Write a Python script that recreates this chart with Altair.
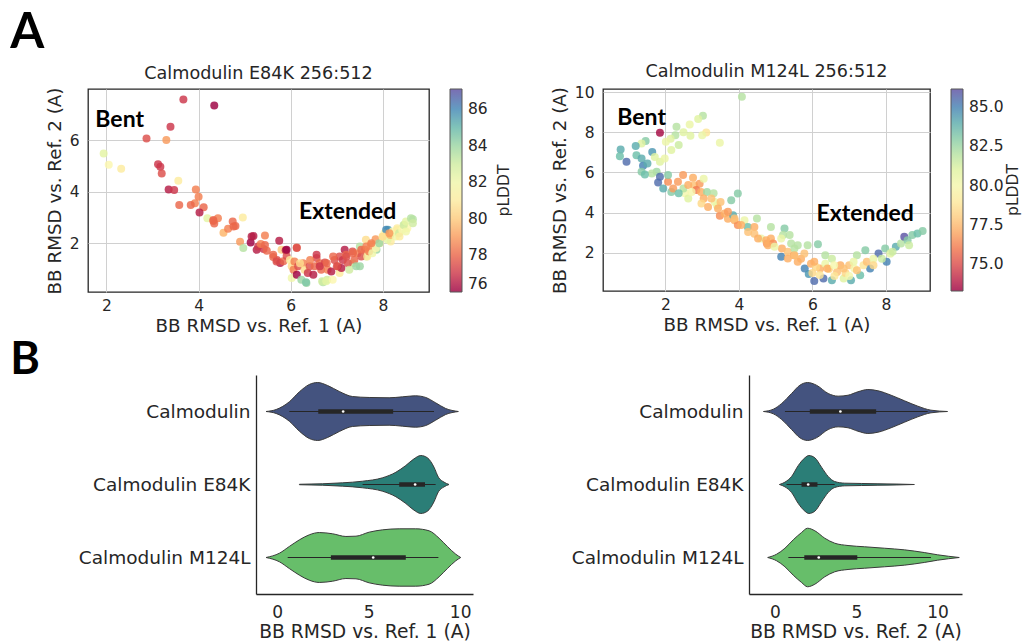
import altair as alt
import pandas as pd

# ---------------- Panel A, left: Calmodulin E84K 256:512 ----------------
S1_X = [6.34, 6.70, 6.79, 6.02, 7.50, 7.64, 7.93, 8.11, 8.17, 8.31, 8.46, 8.65, 8.53, 8.17, 7.86, 7.35, 7.06,
        3.67, 4.34, 3.39, 2.87, 3.30, 1.94, 2.05, 2.32, 3.12, 3.17, 3.20, 3.56, 3.35, 3.47, 3.94, 4.00, 3.92,
        3.83, 3.58, 4.11, 4.02, 4.19, 4.32, 4.42, 4.34, 4.54, 4.64, 4.74, 4.80, 4.96, 4.90, 4.97, 5.13, 5.19,
        5.26, 5.29, 5.41, 5.44, 5.35, 5.48, 5.62, 5.75, 5.70, 5.80, 5.89, 5.77, 5.84, 5.91, 5.98, 6.02, 6.08,
        6.13, 6.06, 6.13, 6.16, 6.27, 6.30, 6.23, 6.33, 6.37, 6.41, 6.49, 6.52, 6.56, 6.63, 6.66, 6.68, 6.74,
        6.77, 6.80, 6.88, 6.91, 6.95, 7.02, 7.06, 7.10, 7.17, 7.13, 7.20, 7.24, 7.27, 7.34, 7.38, 7.42, 7.45,
        7.50, 7.53, 7.61, 7.63, 7.66, 7.70, 7.74, 7.77, 7.84, 7.85, 7.92, 7.99, 8.03, 8.07, 8.10, 8.16, 8.21,
        8.28, 8.31, 8.35, 8.42, 8.45, 8.50, 8.61, 8.65,
        4.32, 4.76, 5.15, 5.44, 5.62, 5.69, 5.91, 6.13, 6.20, 6.42, 6.56, 6.63, 6.78, 6.92, 7.00, 7.21, 7.35,
        7.53, 7.64, 7.75, 8.00, 8.14, 8.36, 8.50]
S1_Y = [0.45, 0.48, 0.58, 0.64, 1.10, 1.48, 2.00, 2.52, 2.39, 2.52, 2.71, 2.93, 2.58, 2.07, 1.74, 1.22, 0.84,
        7.59, 7.36, 6.53, 6.07, 6.02, 5.49, 5.05, 4.90, 5.07, 4.97, 4.71, 4.43, 4.09, 4.07, 4.09, 3.81, 3.55,
        3.49, 3.49, 3.40, 3.19, 2.97, 2.86, 2.97, 2.77, 2.41, 2.56, 2.84, 2.67, 3.00, 2.06, 1.81, 2.03, 2.28,
        1.74, 1.87, 1.77, 2.30, 1.97, 1.71, 1.46, 2.09, 1.35, 1.74, 1.72, 1.23, 1.30, 1.50, 1.35, 1.10, 1.29,
        1.83, 0.97, 0.77, 1.10, 1.22, 0.97, 0.58, 0.48, 0.84, 1.10, 0.77, 1.10, 1.42, 1.22, 0.97, 0.52, 1.25,
        0.52, 0.97, 0.90, 0.58, 1.35, 1.10, 1.48, 1.03, 1.74, 1.35, 1.55, 1.22, 0.97, 1.68, 1.35, 1.10, 1.61,
        1.87, 1.48, 1.74, 2.13, 1.48, 1.68, 1.94, 1.61, 2.15, 1.81, 2.00, 2.26, 2.39, 2.52, 2.13, 2.32, 2.45,
        2.26, 2.58, 2.39, 2.52, 2.71, 2.84, 2.97, 2.78,
        2.90, 2.65, 2.26, 1.93, 1.55, 1.29, 1.74, 1.81, 1.22, 1.35, 1.55, 1.10, 1.22, 1.48, 1.10, 1.48, 1.61,
        1.74, 1.87, 2.00, 2.26, 2.39, 2.26, 2.45]
S1_P = [84, 83.5, 83, 82, 84, 83, 81, 85.5, 83, 82, 83, 83.5, 81.5, 81, 84, 83, 81,
        77, 76, 77, 77.5, 79, 82.5, 81.5, 81, 77, 77, 77.5, 81, 76.5, 77, 78.5, 78.5, 78.5,
        78, 78, 78, 76.5, 82.5, 78, 78.5, 78, 79.5, 78.5, 78, 78, 81, 79, 83.5, 76, 76.5,
        76.5, 77, 77, 78.5, 78.5, 78, 78, 76.5, 77.5, 80, 76.5, 76.5, 78, 77.5, 81, 80.5, 78.5,
        78, 78.5, 76, 77.5, 78.5, 80.5, 84, 84.5, 77, 77.5, 76.5, 78, 77.5, 78, 78, 83, 77.5,
        82.5, 78.5, 76.5, 81.5, 77.5, 78, 77.5, 76.5, 76.5, 77, 78, 77.5, 83, 77.5, 78, 84, 78.5,
        83.5, 77.5, 78.5, 80.5, 81, 78.5, 79, 82, 79, 81.5, 84, 81, 81.5, 86, 82.5, 79.5, 81.5,
        82, 81, 83, 81.5, 83, 82.5, 83.5, 83,
        78, 78, 76.5, 78, 78, 77.5, 76, 77.5, 80.5, 78.5, 77, 77, 78, 78, 77.5, 77.5, 78,
        78, 78.5, 78.5, 80.5, 79, 81, 82]

# ---------------- Panel A, right: Calmodulin M124L 256:512 ----------------
S2_X = [6.30, 6.53, 7.05, 5.79, 5.15, 6.05, 5.90, 7.30, 7.57, 7.80, 8.02,
        4.08, 1.85, 3.02, 2.89, 2.66, 2.30, 3.11, 3.00, 2.68, 3.48, 2.49, 2.27, 2.14, 2.01, 2.36, 2.16,
        1.46, 1.35, 1.19, 0.78, 0.76, 0.94, 1.21, 1.35, 1.39, 1.51, 1.64, 1.71, 1.85, 1.98, 1.76, 1.63,
        1.35, 1.44, 1.85, 1.80, 1.94, 2.16, 2.07, 2.21, 2.48, 2.75, 2.78, 2.93, 3.04, 2.84, 2.97, 2.53,
        2.49, 2.62, 2.36, 3.13, 3.31, 3.04, 2.98, 3.16, 3.34, 3.40, 3.50, 3.79, 3.97, 3.48, 3.61, 3.70,
        3.84, 3.88, 3.97, 4.15, 4.24, 4.42, 4.49, 4.42, 4.60, 4.76, 4.87, 4.87, 5.24, 5.20, 5.38, 5.17,
        5.33, 5.50, 5.60, 4.74, 4.93, 5.15, 5.42, 5.60, 5.69, 5.78, 5.87, 6.15, 5.96, 6.21, 6.35, 6.35,
        6.53, 6.67, 6.76, 6.85, 7.00, 7.14, 7.21, 7.39, 7.48, 7.44, 7.66, 7.89, 7.98, 8.12, 8.27, 8.41,
        8.50, 8.59, 8.72, 8.86, 9.00, 8.18, 8.63, 6.00, 6.20, 6.45, 6.60, 6.90, 7.00, 6.10,
        2.07, 2.34, 2.62, 2.71, 3.25, 3.43, 3.70, 3.88, 4.06, 4.25, 4.52, 4.79, 4.97, 5.33, 5.51,
        5.51, 6.05, 6.41, 6.59, 6.85, 7.12, 7.66, 7.21]
S2_Y = [0.72, 0.64, 0.64, 1.22, 1.80, 0.60, 0.95, 0.88, 1.22, 1.96, 1.55,
        9.76, 7.97, 8.82, 8.66, 8.38, 8.27, 7.99, 7.85, 7.82, 7.47, 8.00, 7.85, 7.68, 7.52, 7.36, 7.11,
        7.56, 7.44, 7.31, 7.14, 6.81, 6.53, 6.86, 6.69, 6.33, 6.44, 7.02, 6.77, 6.53, 6.69, 6.03, 5.95,
        6.03, 5.90, 5.78, 5.50, 5.20, 5.03, 5.53, 5.20, 5.87, 5.73, 5.36, 5.43, 5.68, 5.12, 5.03, 4.96,
        5.20, 4.70, 4.96, 5.03, 4.96, 4.70, 4.45, 4.28, 4.53, 4.36, 4.53, 4.62, 4.95, 3.84, 3.95, 3.70,
        3.87, 3.62, 3.38, 3.62, 3.28, 3.28, 3.71, 2.95, 2.71, 2.46, 2.71, 3.28, 3.21, 2.88, 2.88, 2.21,
        2.05, 1.88, 1.55, 2.63, 2.46, 2.71, 2.46, 2.38, 1.71, 1.96, 2.38, 2.43, 1.46, 1.22, 1.46, 1.88,
        1.71, 1.05, 1.38, 0.72, 1.38, 1.22, 1.88, 1.38, 1.55, 2.13, 1.71, 1.71, 2.21, 1.96, 2.30, 2.46,
        2.80, 2.63, 2.88, 2.96, 3.08, 2.05, 2.38, 1.00, 0.90, 1.20, 0.85, 1.00, 0.85, 1.30,
        5.87, 5.53, 5.37, 5.03, 4.70, 4.20, 4.04, 3.71, 3.38, 3.04, 2.71, 2.38, 2.30, 1.72, 2.21,
        1.88, 1.55, 1.22, 1.38, 1.22, 1.55, 1.38, 1.13]
S2_P = [85.5, 84, 84, 85, 85, 85.5, 84.5, 83.5, 85, 85.5, 85,
        82, 73.5, 82, 81, 80.5, 82, 78.8, 80.5, 81, 80.5, 81, 82, 81, 80.5, 81.5, 81,
        83, 81, 84, 84, 83.5, 85.5, 83.5, 84, 85, 84, 84.5, 81, 81, 80.5, 82.5, 82,
        83, 83.5, 85.5, 85.5, 84, 83, 76.5, 76.8, 76.8, 77.2, 77.7, 76.8, 80.5, 76, 77.2, 80,
        82, 81, 83.5, 82.5, 82, 77.2, 78.3, 77.2, 80.5, 80.5, 77.7, 83, 83, 76.5, 77.2, 77.2,
        84, 77.2, 76.5, 80.5, 83.5, 77.2, 82, 77.7, 80.5, 76.5, 77.2, 82, 83, 82, 82, 77.2,
        77.7, 76.8, 77.2, 77.2, 76.5, 80.5, 82, 82, 77.2, 77.7, 82, 83, 77.2, 77.2, 80.5, 82,
        81.5, 77.7, 77.2, 81, 77.7, 80, 82, 78.8, 77.7, 83, 80.5, 81.5, 83, 81, 84, 82,
        86, 83, 83, 83.5, 83, 81.5, 81.5, 78.3, 78.8, 78.3, 78.8, 78.3, 80, 78.3,
        83, 76.8, 77.2, 80, 77.7, 77.2, 76.8, 77.7, 77.2, 77.7, 77.2, 77.2, 80.5, 77.2, 82,
        77.7, 77.2, 77.2, 80, 77.7, 80.5, 78.3, 77.7]

ANN_TEXT = ["Bent", "Extended"]
ANN1_X = [1.76, 6.18]
ANN1_Y = [6.80, 3.20]
ANN2_X = [0.69, 6.11]
ANN2_Y = [8.72, 3.94]

# ---------------- Panel B: violins ----------------
CATS = ["Calmodulin", "Calmodulin E84K", "Calmodulin M124L"]
CAT_COLORS = ["#44537f", "#2b7e77", "#67be6a"]

# density profiles (value, half width as a fraction of the category band)
V1_CAL_X = [-0.60, -0.05, 0.67, 1.22, 1.76, 2.22, 2.76, 3.40, 4.12, 5.03, 6.12, 6.85, 7.57, 8.12, 8.66, 9.21, 9.90]
V1_CAL_W = [0, .027, .133, .270, .370, .397, .356, .274, .205, .192, .188, .201, .215, .192, .119, .041, 0]
V1_E84_X = [1.22, 2.49, 3.58, 4.67, 5.76, 6.49, 7.03, 7.48, 7.85, 8.21, 8.57, 8.81, 9.12, 9.39]
V1_E84_W = [.003, .010, .023, .045, .092, .168, .260, .352, .397, .366, .237, .100, .032, 0]
V1_M124_X = [-0.60, 0.13, 0.67, 1.22, 1.76, 2.31, 3.03, 3.76, 4.31, 5.03, 5.76, 6.67, 7.57, 8.30, 8.85, 9.30, 9.76, 10.03]
V1_M124_W = [0, .059, .151, .242, .311, .342, .325, .288, .292, .347, .379, .393, .393, .366, .264, .151, .045, 0]

V2_CAL_X = [-0.71, -0.10, 0.41, 1.02, 1.53, 2.00, 2.55, 3.27, 3.88, 4.49, 5.10, 5.71, 6.33, 7.14, 7.96, 8.78, 9.59, 10.61]
V2_CAL_W = [0, .032, .110, .247, .360, .397, .360, .247, .210, .223, .270, .301, .284, .223, .147, .073, .018, 0]
V2_E84_X = [0.27, 0.61, 1.02, 1.43, 1.84, 2.08, 2.45, 2.86, 3.27, 3.67, 4.29, 5.31, 6.33, 7.50, 8.57]
V2_E84_W = [0, .032, .110, .260, .366, .397, .366, .237, .110, .041, .018, .014, .010, .006, 0]
V2_M124_X = [-0.45, 0.10, 0.61, 1.12, 1.63, 2.00, 2.45, 3.06, 3.67, 4.49, 5.51, 6.74, 7.96, 9.18, 10.00, 11.33]
V2_M124_W = [0, .045, .127, .242, .342, .401, .366, .264, .196, .164, .147, .127, .105, .068, .037, 0]

# box statistics: whisker low, q1, median, q3, whisker high
V1_BOX = [[0.67, 2.25, 3.61, 6.34, 8.57], [4.67, 6.67, 7.54, 8.08, 8.66], [0.58, 2.94, 5.25, 7.03, 8.81]]
V2_BOX = [[0.61, 2.14, 4.02, 6.22, 9.39], [0.71, 1.63, 2.04, 2.61, 3.67], [0.82, 1.80, 2.69, 5.06, 9.59]]

INK = "#262626"
FONT = "DejaVu Sans"


def scatter(xs, ys, ps, ax, ay, title, xdom, ydom, xticks, yticks, cdom, cvals, cfmt, w, h, ctitle_dx):
    df = pd.DataFrame({"x": xs, "y": ys, "p": ps})
    xs_ = alt.Scale(domain=xdom, nice=False, zero=False)
    ys_ = alt.Scale(domain=ydom, nice=False, zero=False)
    xax = alt.Axis(values=xticks, title="BB RMSD vs. Ref. 1 (A)", grid=True, gridColor="#d0d0d0",
                   ticks=False, domain=False, labelFontSize=15.5, labelPadding=6, titleFontSize=18.3,
                   titlePadding=4)
    yax = alt.Axis(values=yticks, title="BB RMSD vs. Ref. 2 (A)", grid=True, gridColor="#d0d0d0",
                   ticks=False, domain=False, labelFontSize=15.5, labelPadding=9, titleFontSize=18.3,
                   titlePadding=5)
    pts = alt.Chart(df).mark_circle(size=64, opacity=0.82).encode(
        x=alt.X("x:Q", scale=xs_, axis=xax),
        y=alt.Y("y:Q", scale=ys_, axis=yax),
        color=alt.Color("p:Q", scale=alt.Scale(scheme="spectral", domain=cdom, nice=False, zero=False),
                        legend=alt.Legend(title=None, values=cvals, format=cfmt, gradientLength=h,
                                          gradientThickness=12, offset=21,
                                          labelFontSize=15.5, labelColor=INK, labelFont=FONT,
                                          gradientStrokeColor="#333333", gradientStrokeWidth=1,
                                          direction="vertical", labelOffset=6)),
    )
    adf = pd.DataFrame({"x": ax, "y": ay, "t": ANN_TEXT})
    ann = alt.Chart(adf).mark_text(font="Lato", fontWeight="bold", fontSize=23, align="left",
                                   baseline="middle", color="black").encode(
        x=alt.X("x:Q", scale=xs_, axis=xax), y=alt.Y("y:Q", scale=ys_, axis=yax), text="t:N")
    ctitle = alt.Chart(pd.DataFrame({"t": ["pLDDT"]})).mark_text(
        font=FONT, fontSize=15.5, angle=270, align="center", baseline="middle", color=INK).encode(
        x=alt.value(w + ctitle_dx), y=alt.value(h / 2), text="t:N")
    return alt.layer(pts, ann, ctitle).properties(
        width=w, height=h,
        title=alt.TitleParams(title, fontSize=17.6, font=FONT, fontWeight="normal", color=INK, offset=4),
        view=alt.ViewBackground(stroke=INK, strokeWidth=1.3),
    )


def violin(profiles, boxes, xdom, xtitle, w, h):
    rows = []
    for i, (xs, ws) in enumerate(profiles):
        for x, hw in zip(xs, ws):
            rows.append({"cat": CATS[i], "v": x, "lo": i - hw, "hi": i + hw})
    df = pd.DataFrame(rows)
    bdf = pd.DataFrame({"cat": CATS, "idx": [0, 1, 2],
                        "wl": [b[0] for b in boxes], "q1": [b[1] for b in boxes],
                        "med": [b[2] for b in boxes], "q3": [b[3] for b in boxes],
                        "wh": [b[4] for b in boxes]})
    xs_ = alt.Scale(domain=xdom, nice=False, zero=False)
    ys_ = alt.Scale(domain=[-0.5, 2.5], reverse=True, nice=False, zero=False)
    label_expr = "[" + ",".join("'" + c + "'" for c in CATS) + "][datum.value]"
    xax = alt.Axis(values=[0, 5, 10], title=xtitle, grid=False, ticks=False, domain=True,
                   domainColor=INK, domainWidth=1.3, labelFontSize=17, labelPadding=10,
                   titleFontSize=18.7, titlePadding=2)
    yax = alt.Axis(values=[0, 1, 2], labelExpr=label_expr, title=None, grid=False, ticks=False,
                   domain=True, domainColor=INK, domainWidth=1.3, labelFontSize=18.5, labelPadding=6)
    area = alt.Chart(df).mark_area(orient="vertical", interpolate="monotone", stroke="#3a3a3a",
                                   strokeWidth=1, opacity=1).encode(
        x=alt.X("v:Q", scale=xs_, axis=xax),
        y=alt.Y("lo:Q", scale=ys_, axis=yax, stack=None),
        y2="hi:Q",
        color=alt.Color("cat:N", scale=alt.Scale(domain=CATS, range=CAT_COLORS), legend=None),
    )
    whisk = alt.Chart(bdf).mark_rule(color=INK, strokeWidth=1.2).encode(
        x=alt.X("wl:Q", scale=xs_, axis=xax), x2="wh:Q", y=alt.Y("idx:Q", scale=ys_, axis=yax))
    box = alt.Chart(bdf).mark_rule(color=INK, strokeWidth=4.5).encode(
        x=alt.X("q1:Q", scale=xs_, axis=xax), x2="q3:Q", y=alt.Y("idx:Q", scale=ys_, axis=yax))
    med = alt.Chart(bdf).mark_circle(color="white", size=7, opacity=1).encode(
        x=alt.X("med:Q", scale=xs_, axis=xax), y=alt.Y("idx:Q", scale=ys_, axis=yax))
    return alt.layer(area, whisk, box, med).properties(
        width=w, height=h, view=alt.ViewBackground(stroke=None))


def panel_label(letter, width, size, offset):
    return alt.Chart(pd.DataFrame({"a": [0]})).mark_point(opacity=0).encode(
        x=alt.value(0), y=alt.value(0)).properties(
        width=width, height=1, view=alt.ViewBackground(stroke=None),
        title=alt.TitleParams(letter, anchor="start", fontSize=size, font="Lato", fontWeight="bold",
                              color="black", offset=offset))


s1 = scatter(S1_X, S1_Y, S1_P, ANN1_X, ANN1_Y, "Calmodulin E84K 256:512", [1.6, 9.0], [0.1, 8.0],
             [2, 4, 6, 8], [2, 4, 6], [76, 87.1], [76, 78, 80, 82, 84, 86], "d", 341, 203, 75)
s2 = scatter(S2_X, S2_Y, S2_P, ANN2_X, ANN2_Y, "Calmodulin M124L 256:512", [0.3, 9.2], [0.1, 10.15],
             [2, 4, 6, 8], [2, 4, 6, 8, 10], [73.3, 86.15], [75.0, 77.5, 80.0, 82.5, 85.0], ".1f", 327, 202, 83)

v1 = violin([(V1_CAL_X, V1_CAL_W), (V1_E84_X, V1_E84_W), (V1_M124_X, V1_M124_W)], V1_BOX,
            [-1.15, 10.7], "BB RMSD vs. Ref. 1 (A)", 217, 219)
v2 = violin([(V2_CAL_X, V2_CAL_W), (V2_E84_X, V2_E84_W), (V2_M124_X, V2_M124_W)], V2_BOX,
            [-1.6, 11.5], "BB RMSD vs. Ref. 2 (A)", 213, 219)

top_panels = alt.hconcat(s1, s2, spacing=35).resolve_scale(color="independent")
bottom_panels = alt.hconcat(v1, v2, spacing=98)

top = alt.hconcat(panel_label("A", 33, 49, 28), top_panels, spacing=-2)
bottom = alt.hconcat(panel_label("B", 57, 45, -11), bottom_panels, spacing=8)

chart = alt.vconcat(top, bottom, spacing=2).properties(
    padding={"left": 10, "top": 9, "right": 0, "bottom": 0}
).configure(background="white").configure_axis(
    labelFont=FONT, titleFont=FONT, labelColor=INK, titleColor=INK, titleFontWeight="normal"
).configure_legend(labelFont=FONT, titleFont=FONT)

chart.save("out.html", embed_options={"renderer": "svg", "actions": False})
